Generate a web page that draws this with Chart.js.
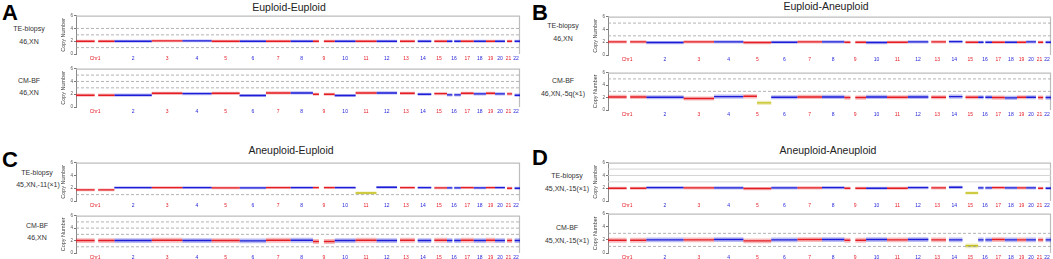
<!DOCTYPE html>
<html>
<head>
<meta charset="utf-8">
<script src="https://cdn.jsdelivr.net/npm/chart.js@4.4.1/dist/chart.umd.min.js"></script>
<style>
  body { margin: 0; background: #fff; width: 1053px; height: 259px; overflow: hidden; position: relative;
         font-family: "Liberation Sans", Arial, sans-serif; color: #333; }
  .lt { position: absolute; font-weight: bold; font-size: 22px; color: #000; line-height: 1; }
  .ttl { position: absolute; font-size: 10.5px; transform: translate(-50%, -50%); white-space: nowrap; line-height: 1; color: #222; }
  .smp { position: absolute; font-size: 7px; transform: translate(-50%, -50%); white-space: nowrap; line-height: 1; color: #333; }
  .box { position: absolute; }
</style>
</head>
<body>
<div class="lt" style="left:2px;top:2px">A</div>
<div class="lt" style="left:532px;top:2px">B</div>
<div class="lt" style="left:2px;top:149px">C</div>
<div class="lt" style="left:532px;top:147px">D</div>

<div class="ttl" style="left:289px;top:7px">Euploid-Euploid</div>
<div class="ttl" style="left:826px;top:6px">Euploid-Aneuploid</div>
<div class="ttl" style="left:291px;top:150px">Aneuploid-Euploid</div>
<div class="ttl" style="left:828px;top:150px">Aneuploid-Aneuploid</div>

<div class="smp" style="left:29px;top:28px">TE-biopsy</div>
<div class="smp" style="left:29px;top:41px">46,XN</div>
<div class="smp" style="left:29px;top:80px">CM-BF</div>
<div class="smp" style="left:29px;top:92px">46,XN</div>

<div class="smp" style="left:563px;top:25px">TE-biopsy</div>
<div class="smp" style="left:563px;top:38px">46,XN</div>
<div class="smp" style="left:563px;top:80px">CM-BF</div>
<div class="smp" style="left:563px;top:93px">46,XN,-5q(×1)</div>

<div class="smp" style="left:37px;top:172px">TE-biopsy</div>
<div class="smp" style="left:38px;top:184px">45,XN,-11(×1)</div>
<div class="smp" style="left:37px;top:225px">CM-BF</div>
<div class="smp" style="left:37px;top:237px">46,XN</div>

<div class="smp" style="left:567px;top:175px">TE-biopsy</div>
<div class="smp" style="left:567px;top:188px">45,XN,-15(×1)</div>
<div class="smp" style="left:567px;top:227px">CM-BF</div>
<div class="smp" style="left:567px;top:240px">45,XN,-15(×1)</div>

<script>
// chromosomes
const chromNames = ['Chr1', '2', '3', '4', '5', '6', '7', '8', '9', '10', '11',
  '12', '13', '14', '15', '16', '17', '18', '19', '20', '21', '22'];
const chromLengths = [249, 243, 198, 191, 181, 171, 159, 146, 141, 136, 135,
  134, 115, 107, 102, 90, 83, 80, 59, 64, 47, 51];
// regions with mapped bins (Mb), gaps at centromeres / acrocentric arms
const chromRegions = [
  [[0, 121], [144, 249]], [[0, 243]], [[0, 198]], [[0, 191]], [[0, 181]], [[0, 171]],
  [[0, 159]], [[0, 146]], [[0, 39], [71, 141]], [[0, 136]], [[0, 135]], [[0, 134]],
  [[19, 115]], [[19, 107]], [[20, 102]], [[0, 35], [47, 90]], [[0, 83]], [[0, 80]],
  [[0, 59]], [[0, 64]], [[14, 47]], [[16, 51]]
];

// copy number per chromosome
const aTop    = [2.0, 2.0, 2.05, 2.05, 2.0, 2.0, 2.0, 2.0, 2.0, 2.0, 2.0, 2.0, 2.0, 2.0, 2.0, 2.0, 2.0, 2.0, 2.0, 2.0, 2.0, 2.0];
const aBottom = [1.85, 1.85, 2.15, 2.1, 2.15, 1.8, 2.2, 2.2, 2.0, 1.8, 2.2, 2.2, 2.15, 2.0, 2.1, 1.9, 2.15, 2.05, 2.15, 2.05, 2.05, 1.85];
const bTop    = [2.05, 1.95, 2.05, 2.05, 1.95, 2.0, 2.05, 2.05, 2.0, 1.95, 2.0, 2.05, 2.05, 2.1, 2.0, 2.0, 2.0, 2.0, 2.0, 2.05, 2.0, 2.0];
const bBottom = [2.1, 2.05, 1.85, 2.15, 2.2, 2.05, 2.1, 2.1, 2.0, 2.1, 2.05, 2.1, 2.05, 2.15, 2.05, 2.05, 2.0, 1.95, 2.05, 2.05, 2.0, 2.0];
const cTop    = [1.75, 2.1, 2.1, 2.1, 2.05, 2.05, 2.1, 2.1, 2.1, 2.1, 2.1, 2.15, 2.1, 2.1, 2.05, 2.05, 2.1, 2.05, 2.1, 2.1, 2.0, 2.0];
const cBottom = [2.0, 2.0, 2.05, 2.0, 2.0, 1.95, 2.05, 2.05, 1.85, 2.0, 2.05, 2.0, 2.05, 2.0, 2.05, 2.0, 2.05, 2.0, 2.05, 2.0, 2.0, 2.0];
const dTop    = [2.0, 2.1, 2.05, 2.05, 1.95, 2.05, 2.05, 2.1, 2.0, 2.0, 2.0, 2.1, 2.05, 2.15, 2.0, 2.05, 2.1, 2.05, 2.05, 2.05, 2.0, 2.0];
const dBottom = [1.95, 2.0, 2.0, 2.05, 1.85, 2.0, 2.05, 2.05, 1.95, 2.05, 2.0, 2.05, 2.0, 2.0, 2.0, 2.0, 2.05, 2.0, 2.0, 2.0, 2.0, 2.0];

// losses (chromosome, from Mb, to Mb, copy number)
const bBottomLoss = [{ chr: 5, from: 88, to: 181, cn: 1.15 }];
const cTopLoss = [{ chr: 11, from: 0, to: 135, cn: 1.25 }];
const dTopLoss = [{ chr: 15, from: 20, to: 102, cn: 1.25 }];
const dBottomLoss = [{ chr: 15, from: 20, to: 102, cn: 1.1 }];

// reference lines
const aTopRef = [4, 3, 1];
const aBottomRef = [5, 4, 3];
const bTopRef = [5, 3];
const bBottomRef = [5, 3];
const cTopRef = [1];
const cBottomRef = [5, 4, 3, 1];
const dTopRef = [5, 4, 3];
const dBottomRef = [3, 1];

const yTicks = [0, 2, 4, 6];

const offsets = [];
let genomeLen = 0;
chromLengths.forEach(l => { offsets.push(genomeLen); genomeLen += l; });
const centers = chromLengths.map((l, i) => offsets[i] + l / 2);

const RED = 'rgb(228,30,38)', BLUE = 'rgb(30,30,215)', YEL = 'rgb(196,192,26)';
const chromColors = chromNames.map((n, i) => i % 2 === 0 ? RED : BLUE);

function segments(values, losses) {
  const red = [], blue = [], yel = [];
  chromRegions.forEach((regs, i) => {
    const off = offsets[i];
    const target = i % 2 === 0 ? red : blue;
    const loss = losses.filter(l => l.chr === i + 1);
    regs.forEach(([s, e]) => {
      let pieces = [[s, e]];
      loss.forEach(l => {
        pieces = pieces.flatMap(([a, b]) => {
          const out = [];
          if (a < l.from) out.push([a, Math.min(b, l.from)]);
          if (b > l.to) out.push([Math.max(a, l.to), b]);
          return out;
        });
      });
      pieces.forEach(([a, b]) => {
        target.push({ x: off + a, y: values[i] }, { x: off + b, y: values[i] }, { x: off + b, y: null });
      });
      loss.forEach(l => {
        const a = Math.max(s, l.from), b = Math.min(e, l.to);
        if (b > a) yel.push({ x: off + a, y: l.cn }, { x: off + b, y: l.cn }, { x: off + b, y: null });
      });
    });
  });
  return { red, blue, yel };
}

const frame = {
  id: 'frame',
  beforeDatasetsDraw(chart) {
    const { ctx, chartArea: a } = chart;
    ctx.save();
    ctx.strokeStyle = '#bdbdbd';
    ctx.lineWidth = 1.2;
    ctx.beginPath();
    ctx.moveTo(a.left, a.top + 0.5);
    ctx.lineTo(a.right - 0.5, a.top + 0.5);
    ctx.lineTo(a.right - 0.5, a.bottom);
    ctx.stroke();
    ctx.restore();
  }
};

function plot(geo, values, losses, refs, opt) {
  const left = geo.x0 - 16, top = geo.y6 - 2;
  const box = document.createElement('div');
  box.className = 'box';
  box.style.left = left + 'px';
  box.style.top = top + 'px';
  box.style.width = (geo.x1 - left + 2) + 'px';
  box.style.height = (geo.y0 - geo.y6 + 2 + 8) + 'px';
  const cv = document.createElement('canvas');
  box.appendChild(cv);
  document.body.appendChild(box);

  const s = segments(values, losses);
  const datasets = refs.map(r => ({
    data: [{ x: 0, y: r }, { x: genomeLen, y: r }],
    borderColor: opt.solid ? '#d4d4d4' : '#a0a0a0',
    borderWidth: opt.solid ? 1 : 0.8,
    borderDash: opt.solid ? [] : [3, 2],
    pointRadius: 0
  }));
  [[s.red, RED], [s.blue, BLUE], [s.yel, YEL]].forEach(([d, c]) => {
    datasets.push({ data: d, borderColor: c.replace('rgb', 'rgba').replace(')', ',0.3)'),
      borderWidth: opt.spread, pointRadius: 0, spanGaps: false });
    datasets.push({ data: d, borderColor: c, borderWidth: 1.4, pointRadius: 0, spanGaps: false });
  });

  new Chart(cv, {
    type: 'line',
    data: { datasets },
    options: {
      responsive: true,
      maintainAspectRatio: false,
      animation: false,
      layout: { padding: { top: 2, right: 2, left: 0, bottom: 0 } },
      plugins: { legend: { display: false }, tooltip: { enabled: false } },
      elements: { line: { tension: 0 } },
      scales: {
        x: {
          type: 'linear', min: 0, max: genomeLen,
          border: { display: false },
          grid: { display: false, drawTicks: false },
          afterBuildTicks: sc => { sc.ticks = centers.map(v => ({ value: v })); },
          afterFit: sc => { sc.height = 8; },
          ticks: {
            autoSkip: false, maxRotation: 0, padding: 1.5,
            font: { size: 5, family: 'Liberation Sans' },
            color: c => chromColors[c.index],
            callback: (v, i) => chromNames[i]
          }
        },
        y: {
          min: 0, max: 6,
          afterBuildTicks: sc => { sc.ticks = yTicks.map(v => ({ value: v })); },
          afterFit: sc => { sc.width = 16; },
          ticks: { font: { size: 4.5, family: 'Liberation Sans' }, color: '#555', padding: 1 },
          grid: { drawOnChartArea: false, tickLength: 2, color: '#777' },
          border: { color: '#888' },
          title: { display: true, text: 'Copy Number', font: { size: 5.5, family: 'Liberation Sans' }, color: '#444', padding: 0 }
        }
      }
    },
    plugins: [frame]
  });
}

const L = { x0: 76, x1: 520 }, R = { x0: 608, x1: 1051 };
plot({ ...L, y6: 14, y0: 54 }, aTop, [], aTopRef, { spread: 2.8 });
plot({ ...L, y6: 67, y0: 107 }, aBottom, [], aBottomRef, { spread: 3.2 });
plot({ ...R, y6: 15, y0: 55 }, bTop, [], bTopRef, { spread: 3.2 });
plot({ ...R, y6: 71, y0: 110 }, bBottom, bBottomLoss, bBottomRef, { spread: 4.2 });
plot({ ...L, y6: 161, y0: 201 }, cTop, cTopLoss, cTopRef, { spread: 2.8 });
plot({ ...L, y6: 214, y0: 253 }, cBottom, [], cBottomRef, { spread: 4.8 });
plot({ ...R, y6: 161, y0: 201 }, dTop, dTopLoss, dTopRef, { spread: 3.2, solid: true });
plot({ ...R, y6: 212, y0: 253 }, dBottom, dBottomLoss, dBottomRef, { spread: 4.8 });
</script>
</body>
</html>
